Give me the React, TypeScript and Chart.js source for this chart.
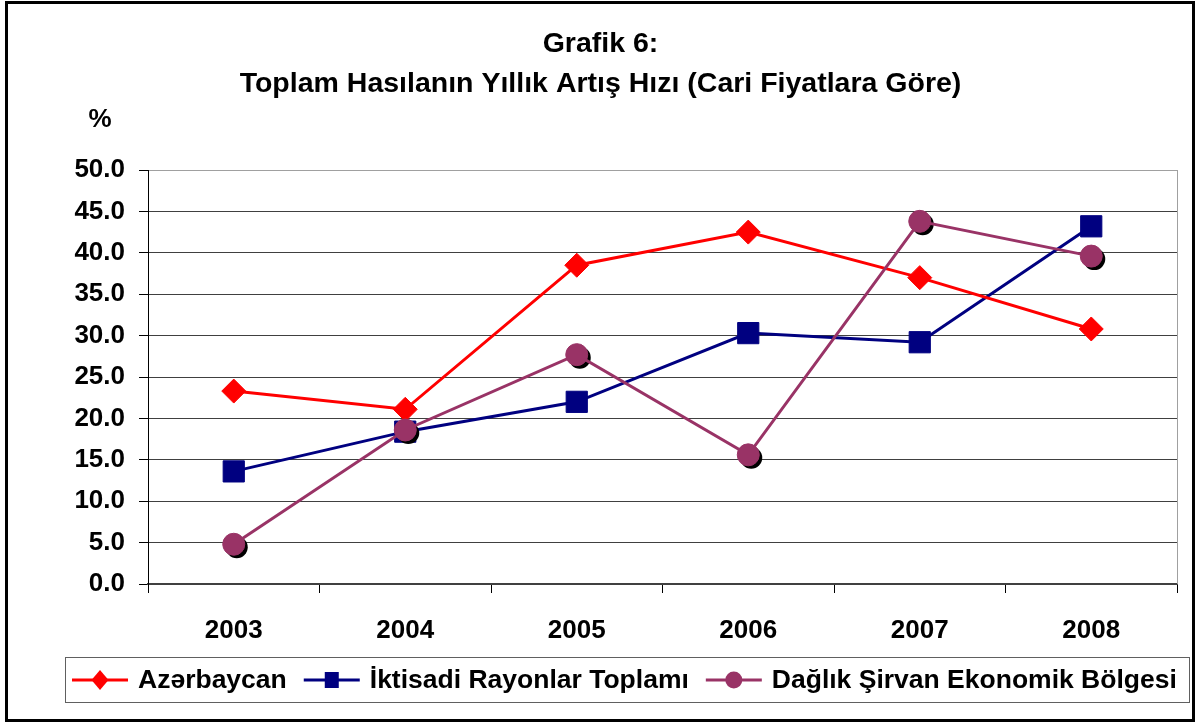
import React, { useEffect, useRef } from 'react';
import { Chart, registerables } from 'chart.js';

Chart.register(...registerables);

const years = ['2003', '2004', '2005', '2006', '2007', '2008'];
const azerbaycan = [23.3, 21.1, 38.5, 42.5, 37.0, 30.8];
const iktisadi = [13.6, 18.4, 22.0, 30.3, 29.2, 43.2];
const daglik = [4.8, 18.6, 27.7, 15.6, 43.8, 39.6];

const seriesNames = ['Azərbaycan', 'İktisadi Rayonlar Toplamı', 'Dağlık Şirvan Ekonomik Bölgesi'];
const titleLines = ['Grafik 6:', 'Toplam Hasılanın Yıllık Artış Hızı (Cari Fiyatlara Göre)'];
const unitLabel = '%';

const FONT = '"Liberation Sans", Arial, Helvetica, sans-serif';

export default function App() {
  const ref = useRef<HTMLCanvasElement>(null);

  useEffect(() => {
    if (!ref.current) return;

    const shadowPlugin = {
      id: 'markerShadow',
      beforeDatasetDraw(chart: any, args: any) {
        const ds = chart.data.datasets[args.index];
        if (!ds.markerShadow) return;
        const ctx = chart.ctx;
        ctx.save();
        ctx.fillStyle = '#000';
        args.meta.data.forEach((pt: any) => {
          ctx.beginPath();
          ctx.arc(pt.x + 3, pt.y + 3, ds.pointRadius, 0, Math.PI * 2);
          ctx.fill();
        });
        ctx.restore();
      },
    };

    const extrasPlugin = {
      id: 'extras',
      beforeDatasetsDraw(chart: any) {
        const { ctx, chartArea: a } = chart;
        ctx.save();
        ctx.strokeStyle = '#a0a0a0';
        ctx.lineWidth = 1;
        ctx.beginPath();
        ctx.moveTo(Math.round(a.right) + 0.5, a.top);
        ctx.lineTo(Math.round(a.right) + 0.5, a.bottom);
        ctx.stroke();
        ctx.restore();
      },
      afterDraw(chart: any) {
        const ctx = chart.ctx;
        ctx.save();
        // unit label
        ctx.font = `bold 26px ${FONT}`;
        ctx.fillStyle = '#000';
        ctx.textAlign = 'center';
        ctx.textBaseline = 'middle';
        ctx.fillText(unitLabel, 100, 120);

        // legend box
        ctx.strokeStyle = '#606060';
        ctx.lineWidth = 1;
        ctx.strokeRect(65.5, 657.5, 1124, 45);

        ctx.font = `bold 26.5px ${FONT}`;
        ctx.textAlign = 'left';
        let x = 72;
        const y = 680;
        chart.data.datasets.forEach((ds: any) => {
          const color = ds.borderColor;
          ctx.strokeStyle = color;
          ctx.fillStyle = color;
          ctx.lineWidth = 3;
          ctx.beginPath();
          ctx.moveTo(x, y);
          ctx.lineTo(x + 56, y);
          ctx.stroke();
          const cx = x + 28;
          ctx.beginPath();
          if (ds.pointStyle === 'rectRot') {
            ctx.moveTo(cx, y - 10);
            ctx.lineTo(cx + 8.5, y);
            ctx.lineTo(cx, y + 10);
            ctx.lineTo(cx - 8.5, y);
            ctx.closePath();
          } else if (ds.pointStyle === 'rect') {
            ctx.rect(cx - 7, y - 8, 14, 16);
          } else {
            ctx.arc(cx, y, 8.5, 0, Math.PI * 2);
          }
          ctx.fill();
          x += 56 + 10;
          ctx.fillStyle = '#000';
          ctx.fillText(ds.label, x, y + 1);
          x += ctx.measureText(ds.label).width + 17;
        });
        ctx.restore();
      },
    };

    const chart = new Chart(ref.current, {
      type: 'line',
      data: {
        labels: years,
        datasets: [
          {
            label: seriesNames[0],
            data: azerbaycan,
            borderColor: '#FF0000',
            backgroundColor: '#FF0000',
            borderWidth: 3,
            pointStyle: 'rectRot',
            pointRadius: 12,
            pointBorderWidth: 1,
            pointBorderColor: '#FF0000',
            pointBackgroundColor: '#FF0000',
            tension: 0,
            order: 1,
          },
          {
            label: seriesNames[1],
            data: iktisadi,
            borderColor: '#000080',
            backgroundColor: '#000080',
            borderWidth: 3,
            pointStyle: 'rect',
            pointRadius: 15,
            pointBorderWidth: 1,
            pointBorderColor: '#000080',
            pointBackgroundColor: '#000080',
            tension: 0,
            order: 2,
          },
          {
            label: seriesNames[2],
            data: daglik,
            borderColor: '#993366',
            backgroundColor: '#993366',
            borderWidth: 3,
            pointStyle: 'circle',
            pointRadius: 11,
            pointBorderWidth: 1,
            pointBorderColor: '#993366',
            pointBackgroundColor: '#993366',
            tension: 0,
            order: 0,
            markerShadow: true,
          } as any,
        ],
      },
      options: {
        animation: false,
        responsive: false,
        devicePixelRatio: 1,
        layout: { padding: { left: 24, right: 18, top: 0, bottom: 80 } },
        plugins: {
          legend: { display: false },
          tooltip: { enabled: false },
          title: {
            display: true,
            text: titleLines,
            color: '#000',
            font: { family: FONT, size: 28.5, weight: 'bold', lineHeight: 40 / 28.5 },
            padding: { top: 24, bottom: 66 },
          },
        },
        scales: {
          x: {
            offset: true,
            afterFit: (scale: any) => {
              scale.height = 60;
            },
            grid: {
              drawOnChartArea: false,
              drawTicks: true,
              tickLength: 9,
              tickColor: '#000',
              offset: true,
            },
            border: { display: true, color: '#404040', width: 2 },
            ticks: {
              color: '#000',
              padding: 22,
              maxRotation: 0,
              font: { family: FONT, size: 26, weight: 'bold' },
            },
          },
          y: {
            min: 0,
            max: 50,
            afterFit: (scale: any) => {
              scale.width = 124;
            },
            grid: {
              color: (c: any) => (c.tick && c.tick.value === 50 ? '#a0a0a0' : '#404040'),
              lineWidth: 1,
              tickLength: 9,
              tickColor: '#000',
              drawTicks: true,
            },
            border: { display: true, color: '#000', width: 1 },
            ticks: {
              stepSize: 5,
              color: '#000',
              padding: 14,
              font: { family: FONT, size: 26, weight: 'bold' },
              callback: (v: any) => Number(v).toFixed(1),
            },
          },
        },
      },
      plugins: [shadowPlugin, extrasPlugin],
    } as any);

    return () => chart.destroy();
  }, []);

  return (
    <div style={{ position: 'fixed', left: 0, top: 0, width: 1195, height: 724, background: '#fff' }}>
      <canvas ref={ref} width={1195} height={724} style={{ display: 'block' }} />
      <div
        style={{
          position: 'absolute',
          left: 5,
          top: 1,
          width: 1190,
          height: 721,
          border: '3px solid #000',
          boxSizing: 'border-box',
          pointerEvents: 'none',
        }}
      />
    </div>
  );
}
